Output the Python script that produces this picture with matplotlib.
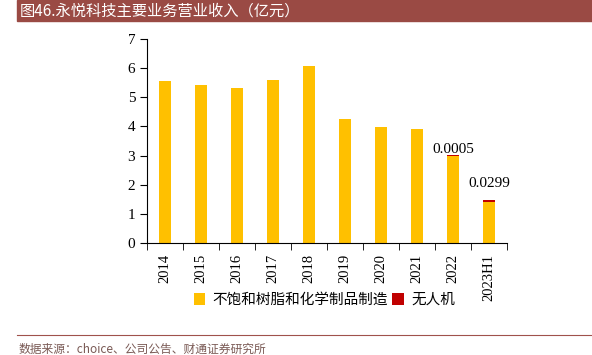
import numpy as np
import matplotlib.pyplot as plt

years = ["2014", "2015", "2016", "2017", "2018", "2019", "2020", "2021", "2022", "2023H1"]
resin = [5.55, 5.43, 5.33, 5.58, 6.08, 4.25, 3.97, 3.90, 3.00, 1.42]
drone = [0, 0, 0, 0, 0, 0, 0, 0, 0.0005, 0.0299]
drone_labels = ["", "", "", "", "", "", "", "", "0.0005", "0.0299"]

cjk = ["Noto Sans CJK SC", "DejaVu Sans"]
serif = ["Liberation Serif", "DejaVu Serif"]

fig = plt.figure(figsize=(5.92, 3.55), dpi=100)
ax = fig.add_axes([147/592, 1-243/355, 360/592, 204/355])

x = np.arange(len(years))
ax.bar(x, resin, width=0.34, color="#FFC000", label="不饱和树脂和化学制品制造")
ax.bar(x, drone, width=0.34, bottom=resin, color="#C00000", label="无人机")
label_gap = {8: 0.0, 9: 0.38}
# tiny drone bars are invisible at this scale, give them a visible cap
for i in range(len(years)):
    if drone[i] > 0:
        ax.bar(x[i], 0.04, width=0.34, bottom=resin[i] + drone[i] - 0.02, color="#C00000")
    if drone_labels[i]:
        ax.text(x[i], resin[i] + drone[i] + label_gap.get(i, 0.2), drone_labels[i],
                ha="center", va="bottom", fontsize=11, family=serif)

ax.set_xlim(-0.5, len(years) - 0.5)
ax.set_ylim(0, 7)
ax.set_yticks(range(8))
ax.set_xticks(x)
ax.set_xticklabels(years, rotation=90, family=serif, fontsize=10.5)
ax.set_xticks(np.arange(-0.5, len(years)), minor=True)
ax.tick_params(axis="x", which="major", length=0, pad=8)
ax.tick_params(axis="x", which="minor", length=5, direction="out")
ax.tick_params(axis="y", length=5, direction="out", labelsize=11)
for lab in ax.get_yticklabels():
    lab.set_family(serif)
ax.spines["top"].set_visible(False)
ax.spines["right"].set_visible(False)

leg = fig.legend(loc="center", bbox_to_anchor=(0.548, 1-300/355), ncol=2, frameon=False,
                 prop={"family": cjk, "size": 10.5}, handlelength=0.8, handleheight=0.8,
                 handletextpad=0.5, columnspacing=0.3)

# title bar
fig.patches.append(plt.Rectangle((17/592, 1-21/355), 575/592, 21/355, transform=fig.transFigure,
                                 color="#9A4A44", zorder=0))
fig.text(20/592, 1-11/355, "图46.永悦科技主要业务营业收入（亿元）", color="white", fontsize=11,
         family=cjk, va="center", ha="left")

# footer
fig.add_artist(plt.Line2D([17/592, 1], [1-335/355, 1-335/355], transform=fig.transFigure,
                          color="#A0524C", lw=0.8))
fig.text(19/592, 1-349/355, "数据来源：choice、公司公告、财通证券研究所", color="#7A5A55", fontsize=8.5,
         family=cjk, va="center", ha="left")

fig.savefig("out.png", dpi=100)
